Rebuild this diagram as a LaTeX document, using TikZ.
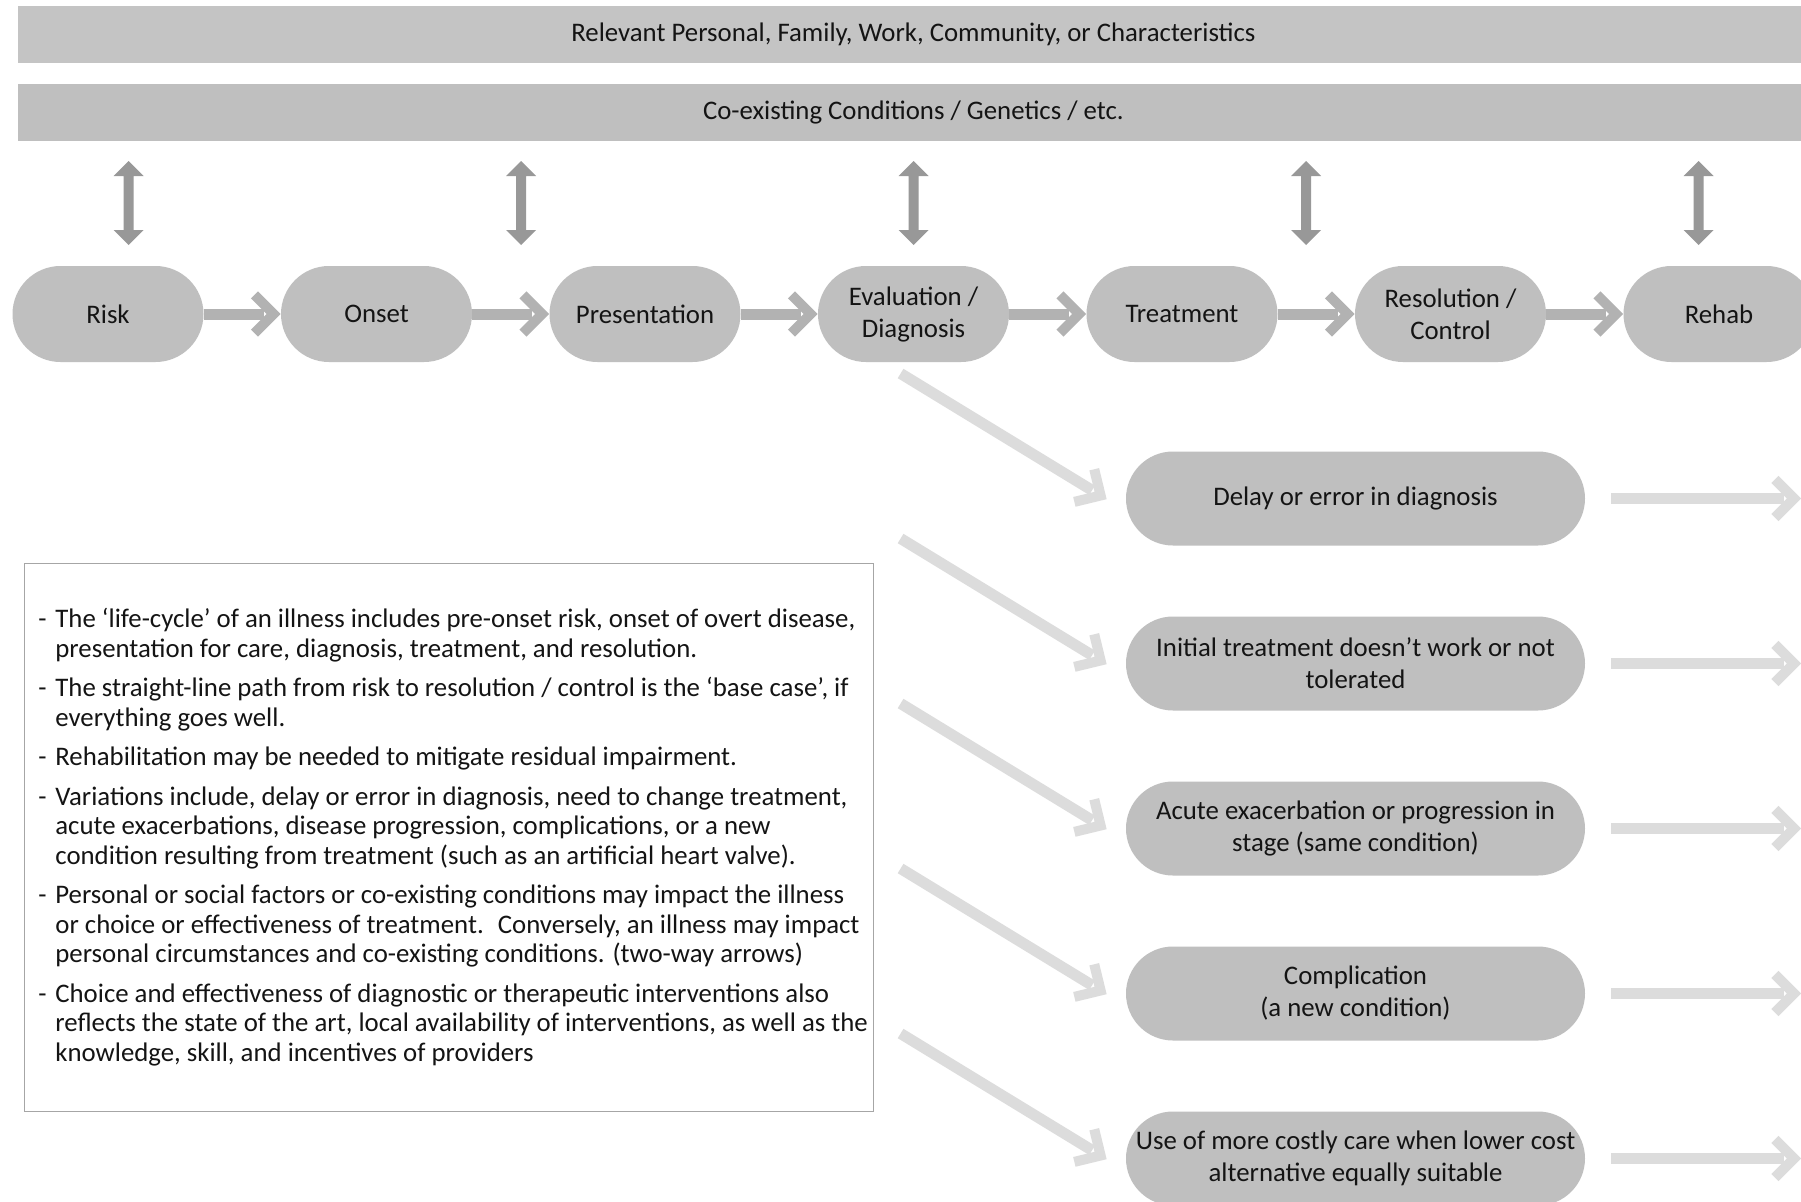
\documentclass[tikz,border=0pt]{standalone}
\usepackage{fontspec}
\setmainfont{Carlito}
\usetikzlibrary{shapes.misc,calc}

\definecolor{bartop}{HTML}{C4C4C4}
\definecolor{barlow}{HTML}{BFBFBF}
\definecolor{stagefill}{HTML}{BFBFBF}
\definecolor{flowgray}{HTML}{B2B2B2}
\definecolor{linkgray}{HTML}{989898}
\definecolor{branchgray}{HTML}{DCDCDC}
\definecolor{framegray}{HTML}{A6A6A6}
\definecolor{inkgray}{HTML}{141414}

% thick shaft with an open chevron head: colour, start, tip
\newcommand\fatarrow[3]{%
  \draw[line width=5.5pt,#1] (#2) -- ($(#3)!5pt!(#2)$);
  \draw[line width=5pt,#1,line join=miter,miter limit=10]
    ($(#3)!13.5pt!45:(#2)$) -- (#3) -- ($(#3)!13.5pt!-45:(#2)$);
}
\newcommand\itemdash{\makebox[8.5pt][l]{-}}
\newcommand\contind{\hspace*{8.5pt}}

\begin{document}
\begin{tikzpicture}[x=0.5pt,y=-0.5pt,
  font=\fontsize{13.4}{16}\selectfont, text=inkgray,
  bar/.style={rectangle, minimum height=28.5pt, minimum width=895pt,
    inner sep=0pt, anchor=west},
  stage/.style={rounded rectangle, fill=stagefill, minimum width=95.5pt,
    minimum height=48pt, inner sep=0pt, align=center},
  branch/.style={rounded rectangle, fill=stagefill, minimum width=229.5pt,
    minimum height=47pt, inner sep=0pt, align=center},
  notes/.style={anchor=base west, align=left, inner sep=0pt,
    font=\fontsize{13.4}{14.75}\selectfont}]

\useasboundingbox (0,0) rectangle (1801,1201);
\clip (0,0) rectangle (1801,1201);
\fill[white] (0,0) rectangle (1801,1201);

% context bands
\node[bar, fill=bartop] (personal) at (18,34.5)
  {Relevant Personal, Family, Work, Community, or Characteristics};
\node[bar, fill=barlow] (coexist) at (18,112.5)
  {Co-existing Conditions / Genetics / etc.};

% two-way influence arrows
\foreach \x [count=\i] in {128.6,521.1,913.6,1306.1,1698.6}{
  \coordinate (link\i) at (\x,161);
  \fill[linkgray] (link\i) -- ++(15,15) -- ++(-10,0) -- ++(0,54) -- ++(10,0)
    -- ++(-15,15) -- ++(-15,-15) -- ++(10,0) -- ++(0,-54) -- ++(-10,0) -- cycle;
}

% base-case path
\foreach \n/\t [count=\i from 0] in {risk/Risk, onset/Onset, pres/Presentation,
    eval/{Evaluation /\\Diagnosis}, treat/Treatment,
    resol/{Resolution /\\Control}, rehab/Rehab}
  \node[stage] (\n) at ({108+268.5*\i},314) {\t};

\foreach \a/\b in {risk/onset, onset/pres, pres/eval, eval/treat,
    treat/resol, resol/rehab}{
  \coordinate (\a-tip) at ($(\b.west)+(-7,0)$);
  \fatarrow{flowgray}{\a.east}{\a-tip}
}

% variations
\foreach \n/\t [count=\i from 0] in {
    delay/{Delay or error in diagnosis},
    fail/{Initial treatment doesn’t work or not\\tolerated},
    acute/{Acute exacerbation or progression in\\stage (same condition)},
    compl/{Complication\\(a new condition)},
    costly/{Use of more costly care when lower cost\\alternative equally suitable}}{
  \node[branch] (\n) at (1355.5,{498.5+165*\i}) {\t};
  \coordinate (\n-in) at ($(\n.west)+(-25,-3)$);
  \coordinate (\n-from) at ($(\n-in)+(-200,-122)$);
  \fatarrow{branchgray}{\n-from}{\n-in}
  \coordinate (\n-out) at ($(\n.east)+(26,0)$);
  \coordinate (\n-edge) at (1794,{498.5+165*\i});
  \fatarrow{branchgray}{\n-out}{\n-edge}
}

% explanatory notes
\node[draw=framegray, line width=0.6pt, minimum width=424.5pt,
  minimum height=274pt, anchor=north west, inner sep=0pt] (notebox) at (24,563) {};
\node[notes] (notetext) at (38,1061) {%
\itemdash The ‘life-cycle’ of an illness includes pre-onset risk, onset of overt disease,\\
\contind presentation for care, diagnosis, treatment, and resolution.\\[5pt]
\itemdash The straight-line path from risk to resolution / control is the ‘base case’, if\\
\contind everything goes well.\\[5pt]
\itemdash Rehabilitation may be needed to mitigate residual impairment.\\[5pt]
\itemdash Variations include, delay or error in diagnosis, need to change treatment,\\
\contind acute exacerbations, disease progression, complications, or a new\\
\contind condition resulting from treatment (such as an artificial heart valve).\\[5pt]
\itemdash Personal or social factors or co-existing conditions may impact the illness\\
\contind or choice or effectiveness of treatment.~ Conversely, an illness may impact\\
\contind personal circumstances and co-existing conditions. (two-way arrows)\\[5pt]
\itemdash Choice and effectiveness of diagnostic or therapeutic interventions also\\
\contind reflects the state of the art, local availability of interventions, as well as the\\
\contind knowledge, skill, and incentives of providers};

\end{tikzpicture}
\end{document}
